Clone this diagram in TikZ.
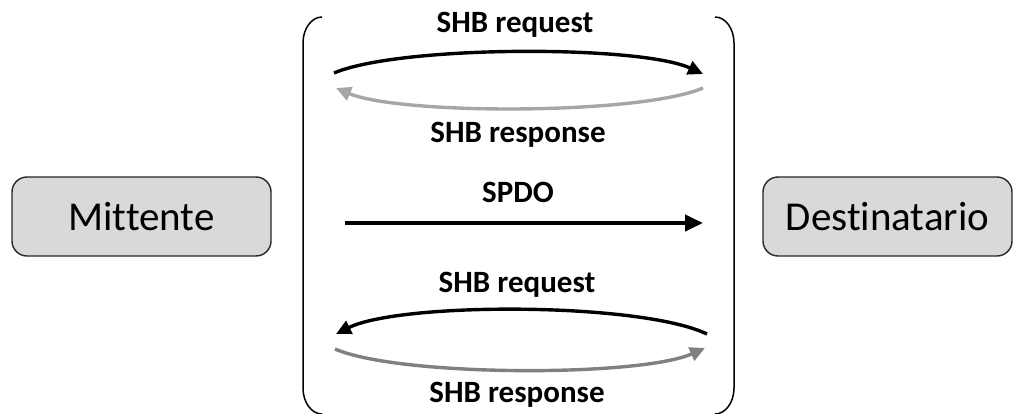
\documentclass[tikz,border=0pt]{standalone}
\usepackage{fontspec}
\setmainfont[Ligatures={NoCommon}]{Carlito}
\usetikzlibrary{arrows.meta}
\definecolor{boxfill}{HTML}{D9D9D9}
\definecolor{boxline}{HTML}{262626}
\definecolor{lightreply}{HTML}{A6A6A6}
\definecolor{darkreply}{HTML}{808080}
\begin{document}
\begin{tikzpicture}[x=1pt,y=-1pt,
  party/.style={draw=boxline, line width=1.4pt, fill=boxfill, rounded corners=15pt,
    minimum height=79pt, inner sep=0pt, font=\fontsize{41}{49}\selectfont},
  msg/.style={font=\bfseries\fontsize{31}{37}\selectfont, inner sep=0pt, anchor=base},
  bracket/.style={draw=black, line width=1.5pt},
  flow/.style={line width=3.4pt, -{Triangle[length=15pt,width=14pt]}},
  req/.style={flow, draw=black},
  resplight/.style={flow, draw=lightreply},
  respdark/.style={flow, draw=darkreply},
  data/.style={draw=black, line width=4pt, -{Triangle[length=18pt,width=16pt]}}
]
\useasboundingbox (0,0) rectangle (1014,414);

% end points
\node[party, minimum width=259pt] (src) at (141.5,216.5) {Mittente};
\node[party, minimum width=249pt] (dst) at (887.5,216.5) {Destinatario};

% channel brackets
\draw[bracket] (322,17) .. controls (311.5,17) and (303,28.6) .. (303,43)
  -- (303,388) .. controls (303,402.4) and (311.5,414) .. (322,414);
\draw[bracket] (715,17) .. controls (725.5,17) and (734,28.6) .. (734,43)
  -- (734,388) .. controls (734,402.4) and (725.5,414) .. (715,414);

% anchor points of the message flows
\coordinate (t1a) at (334,73);  \coordinate (t1b) at (703,74);
\coordinate (t2a) at (703,88);  \coordinate (t2b) at (336,88);
\coordinate (ma)  at (345,223); \coordinate (mb)  at (703,223);
\coordinate (b1a) at (707,334); \coordinate (b1b) at (336,334);
\coordinate (b2a) at (335,349); \coordinate (b2b) at (705,348);

% upper handshake
\node[msg] (lreq1) at (515,33) {SHB request};
\draw[req] (t1a) .. controls (400,45) and (640,45) .. (t1b);
\draw[resplight] (t2a) .. controls (640,115) and (400,115) .. (t2b);
\node[msg] (lresp1) at (518,143) {SHB response};

% safety data
\node[msg] (lspdo) at (518,202) {SPDO};
\draw[data] (ma) -- (mb);

% lower handshake
\node[msg] (lreq2) at (517,292) {SHB request};
\draw[req] (b1a) .. controls (640,302) and (400,302) .. (b1b);
\draw[respdark] (b2a) .. controls (400,377) and (640,377) .. (b2b);
\node[msg] (lresp2) at (517,402) {SHB response};
\end{tikzpicture}
\end{document}
